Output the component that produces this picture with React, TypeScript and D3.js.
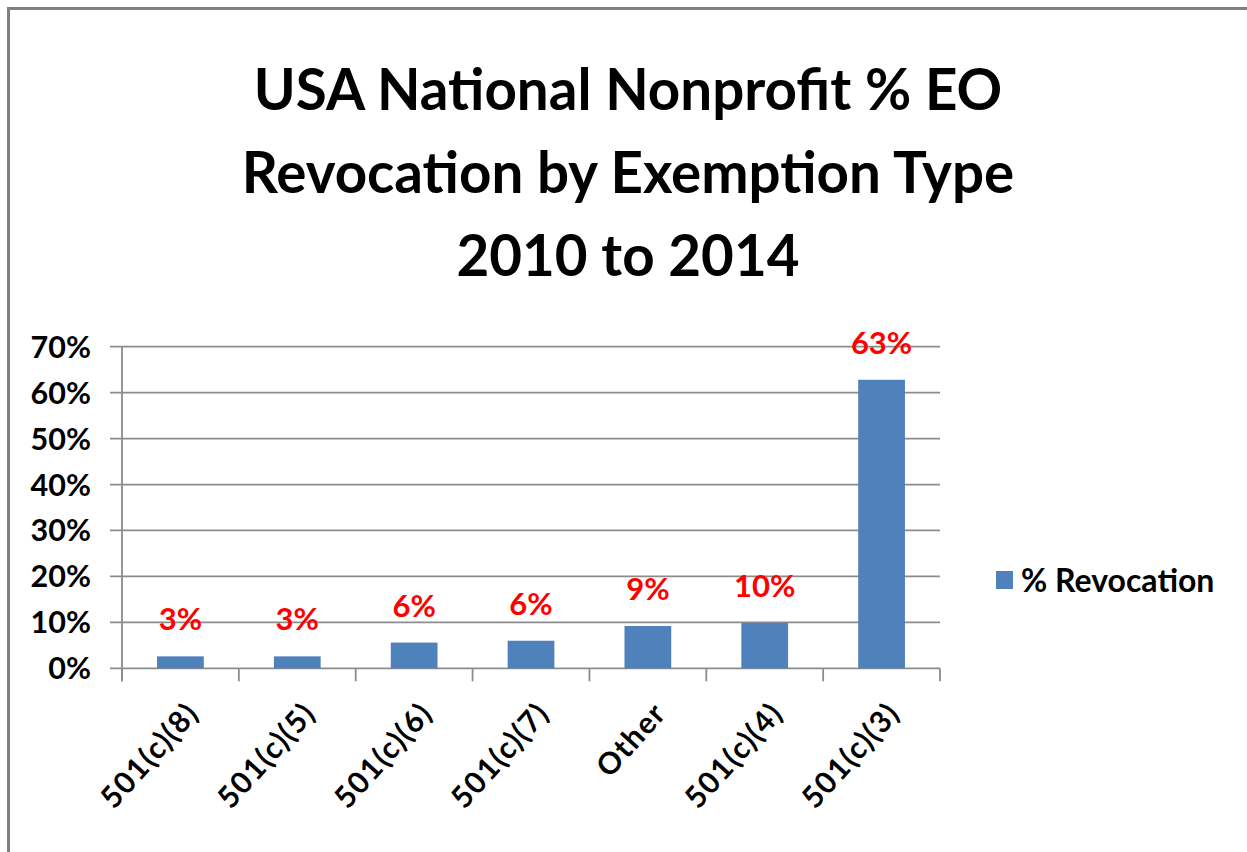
import React from "react";
import * as d3 from "d3";

const categories = ["501(c)(8)", "501(c)(5)", "501(c)(6)", "501(c)(7)", "Other", "501(c)(4)", "501(c)(3)"];
const revocation = [2.6, 2.6, 5.6, 6.0, 9.2, 9.9, 62.8];
const valueLabels = ["3%", "3%", "6%", "6%", "9%", "10%", "63%"];
const yTicks = [0, 10, 20, 30, 40, 50, 60, 70];
const titleLines = ["USA National Nonprofit % EO", "Revocation by Exemption Type", "2010 to 2014"];
const legendLabel = "% Revocation";

const W = 1247;
const H = 852;
const FONT = "Lato, 'Open Sans', sans-serif";

export default function App() {
  const x0 = 122, x1 = 940, yTop = 346.7, yBase = 668.3;
  const x = d3.scaleBand<string>().domain(categories).range([x0, x1]).paddingInner(0.6).paddingOuter(0.3);
  const y = d3.scaleLinear().domain([0, 70]).range([yBase, yTop]);
  const step = x.step();
  const gridColor = "#8c8c8c";

  return (
    <svg width={W} height={H} style={{ position: "absolute", left: 0, top: 0, background: "#fff" }}>
      <rect x={0} y={0} width={W} height={H} fill="#fff" />
      <rect x={8.5} y={8.5} width={3000} height={3000} fill="none" stroke="#808080" strokeWidth={3} />
      {titleLines.map((t, i) => (
        <text key={i} x={628} y={110 + i * 83} textAnchor="middle" fontFamily={FONT} fontWeight={700} fontSize={56.5} fill="#000">
          {t}
        </text>
      ))}
      {yTicks.map((t) => (
        <g key={t}>
          <line x1={110} x2={x1} y1={y(t)} y2={y(t)} stroke={gridColor} strokeWidth={1.8} />
          <text x={91} y={y(t) + 11} textAnchor="end" fontFamily={FONT} fontWeight={700} fontSize={30.5} fill="#000">
            {t}%
          </text>
        </g>
      ))}
      <line x1={x0} x2={x0} y1={yTop} y2={yBase + 13} stroke={gridColor} strokeWidth={1.8} />
      {d3.range(categories.length + 1).map((i) => {
        const xx = x0 + i * step;
        return <line key={i} x1={xx} x2={xx} y1={yBase} y2={yBase + 13} stroke={gridColor} strokeWidth={1.8} />;
      })}
      {categories.map((c, i) => {
        const bx = x(c)!;
        const bw = x.bandwidth();
        const top = y(revocation[i]);
        const cx = bx + bw / 2;
        return (
          <g key={c}>
            <rect x={bx} y={top} width={bw} height={yBase - top} fill="#4F81BD" />
            <text x={cx} y={top - 26} textAnchor="middle" fontFamily={FONT} fontWeight={700} fontSize={31} fill="#FF0000">
              {valueLabels[i]}
            </text>
            <text
              transform={`translate(${cx + 20},${yBase + 46}) rotate(-48)`}
              textAnchor="end"
              fontFamily={FONT}
              fontWeight={700}
              fontSize={30}
              letterSpacing={1.5}
              fill="#000"
            >
              {c}
            </text>
          </g>
        );
      })}
      <rect x={996} y={571} width={17} height={18} fill="#4F81BD" />
      <text x={1021} y={592} fontFamily={FONT} fontWeight={700} fontSize={32} fill="#000">
        {legendLabel}
      </text>
    </svg>
  );
}
